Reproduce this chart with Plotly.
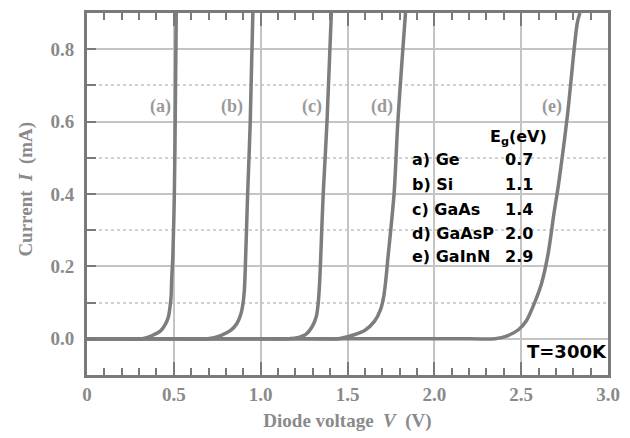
import plotly.graph_objects as go

# ---- data (V in volts, I in mA) ----
V_a = [0.0, 0.20, 0.318, 0.375, 0.422, 0.450, 0.469, 0.478, 0.484, 0.488, 0.494, 0.503, 0.508, 0.514]
I_a = [0.0, 0.0, 0.0, 0.009, 0.021, 0.039, 0.061, 0.088, 0.115, 0.169, 0.224, 0.40, 0.60, 0.90]

V_b = [0.0, 0.55, 0.695, 0.770, 0.827, 0.864, 0.887, 0.898, 0.906, 0.911, 0.925, 0.94, 0.955]
I_b = [0.0, 0.0, 0.0, 0.009, 0.023, 0.043, 0.070, 0.097, 0.133, 0.188, 0.40, 0.60, 0.90]

V_c = [0.0, 1.02, 1.16, 1.22, 1.26, 1.297, 1.32, 1.331, 1.339, 1.345, 1.36, 1.382, 1.407]
I_c = [0.0, 0.0, 0.0, 0.004, 0.012, 0.034, 0.061, 0.097, 0.151, 0.215, 0.40, 0.60, 0.90]

V_d = [0.0, 1.30, 1.448, 1.524, 1.599, 1.655, 1.689, 1.708, 1.722, 1.731, 1.768, 1.79, 1.834]
I_d = [0.0, 0.0, 0.0, 0.009, 0.023, 0.048, 0.079, 0.115, 0.169, 0.215, 0.40, 0.60, 0.90]

V_e = [0.0, 2.20, 2.35, 2.42, 2.484, 2.53, 2.56, 2.616, 2.654, 2.69, 2.716, 2.767, 2.823, 2.838]
I_e = [0.0, 0.0, 0.0, 0.008, 0.025, 0.05, 0.08, 0.151, 0.232, 0.35, 0.43, 0.62, 0.872, 0.90]

curve_labels = ["(a)", "(b)", "(c)", "(d)", "(e)"]
label_V = [0.424, 0.836, 1.294, 1.70, 2.678]
label_I = [0.642, 0.642, 0.642, 0.642, 0.642]

materials = ["a) Ge", "b) Si", "c) GaAs", "d) GaAsP", "e) GaInN"]
gaps = ["0.7", "1.1", "1.4", "2.0", "2.9"]

x_tickvals = [0, 0.5, 1.0, 1.5, 2.0, 2.5, 3.0]
x_ticktext = ["0", "0.5", "1.0", "1.5", "2.0", "2.5", "3.0"]
y_tickvals = [0.0, 0.2, 0.4, 0.6, 0.8]
y_ticktext = ["0.0", "0.2", "0.4", "0.6", "0.8"]

CURVE = "#7d7d7d"
FRAME = "#7a7a7a"
TXT = "#8a8a8a"
SERIF = "Liberation Serif, Times New Roman, serif"
SANS = "DejaVu Sans, sans-serif"

fig = go.Figure()
for V, I in [(V_a, I_a), (V_b, I_b), (V_c, I_c), (V_d, I_d), (V_e, I_e)]:
    fig.add_trace(go.Scatter(x=V, y=I, mode="lines",
                             line=dict(color=CURVE, width=3.5, shape="spline", smoothing=0.9),
                             showlegend=False, hoverinfo="skip"))

for t, x, y in zip(curve_labels, label_V, label_I):
    fig.add_annotation(x=x, y=y, text=t, showarrow=False, xanchor="center", yanchor="middle",
                       font=dict(family=SERIF, size=18, color="#9a9a9a", weight="bold"))

# band-gap table
fig.add_annotation(x=2.31, y=0.556, text="E<sub>g</sub>(eV)", showarrow=False,
                   xanchor="left", yanchor="middle",
                   font=dict(family=SANS, size=16, color="black", weight="bold"))
row_I = [0.494, 0.426, 0.358, 0.291, 0.226]
for m, g, y in zip(materials, gaps, row_I):
    fig.add_annotation(x=1.857, y=y, text=m, showarrow=False, xanchor="left", yanchor="middle",
                       font=dict(family=SANS, size=16, color="black", weight="bold"))
    fig.add_annotation(x=2.395, y=y, text=g, showarrow=False, xanchor="left", yanchor="middle",
                       font=dict(family=SANS, size=16, color="black", weight="bold"))

fig.add_annotation(x=2.52, y=-0.036, text="T=300K", showarrow=False, xanchor="left",
                   yanchor="middle", font=dict(family=SANS, size=18, color="black", weight="bold"))

# y-axis title placed as rotated text
fig.add_annotation(xref="paper", yref="paper", x=-0.1165, y=0.513,
                   text="Current  <i>I</i>  (mA)", textangle=-90, showarrow=False,
                   xanchor="center", yanchor="middle",
                   font=dict(family=SERIF, size=19, color=TXT, weight="bold"))

fig.update_xaxes(range=[0, 3.0], tickvals=x_tickvals, ticktext=x_ticktext,
                 ticks="inside", ticklen=13, tickwidth=2, tickcolor=FRAME,
                 minor=dict(dtick=0.1, ticks="inside", ticklen=7, tickwidth=2, tickcolor=FRAME,
                            showgrid=False),
                 showgrid=True, gridcolor="#c4c4c4", gridwidth=2,
                 showline=True, linecolor=FRAME, linewidth=3, mirror="ticks",
                 zeroline=False,
                 tickfont=dict(family=SERIF, size=19, color=TXT, weight="bold"),
                 title=dict(text="Diode voltage  <i>V</i>  (V)", standoff=10,
                            font=dict(family=SERIF, size=19, color=TXT, weight="bold")))
fig.update_yaxes(range=[-0.1, 0.9], tickvals=y_tickvals, ticktext=y_ticktext,
                 ticks="inside", ticklen=9, tickwidth=2, tickcolor=FRAME,
                 ticklabelstandoff=6,
                 minor=dict(dtick=0.1, tick0=0, ticks="inside", ticklen=9, tickwidth=2,
                            tickcolor=FRAME, showgrid=True, gridcolor="#d0d0d0",
                            gridwidth=1.5, griddash="dot"),
                 showgrid=True, gridcolor="#c4c4c4", gridwidth=1.5,
                 showline=True, linecolor=FRAME, linewidth=3, mirror=True,
                 zeroline=False,
                 tickfont=dict(family=SERIF, size=19, color=TXT, weight="bold"))

fig.update_layout(width=630, height=438, margin=dict(l=87, r=11, t=10, b=58),
                  plot_bgcolor="white", paper_bgcolor="white")

fig.write_html("out.html")
